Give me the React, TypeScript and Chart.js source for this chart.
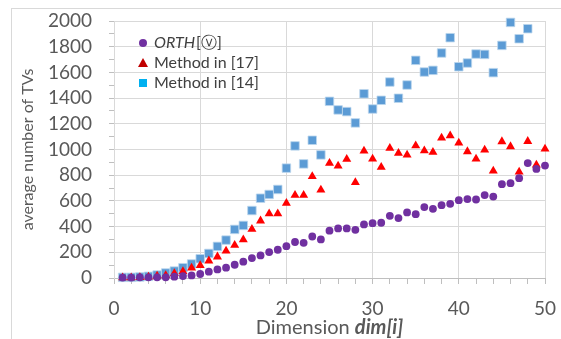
import React, { useEffect, useRef } from "react";
import { Chart, registerables } from "chart.js";

Chart.register(...registerables);

const dims = Array.from({ length: 50 }, (_, i) => i + 1);

const orth = [3, 3, 5, 5, 5, 5, 10, 15, 20, 31, 49, 67, 80, 103, 127, 155, 176, 202, 220, 248,
  280, 274, 323, 300, 368, 386, 386, 375, 417, 427, 430, 484, 466, 510, 497, 552, 538, 567, 577, 606,
  614, 611, 645, 634, 730, 738, 777, 894, 849, 875];

const method17 = [2, 2, 5, 8, 15, 20, 35, 51, 78, 98, 134, 165, 210, 256, 298, 380, 445, 500, 500, 583,
  645, 645, 790, 686, 893, 872, 924, 743, 989, 927, 862, 1010, 971, 958, 1030, 991, 979, 1090, 1108, 1051,
  984, 927, 997, 834, 1062, 1023, 826, 1064, 880, 1005];

const method14: (number | null)[] = [5, 5, 8, 13, 23, 39, 54, 80, 109, 150, 191, 246, 295, 378, 409, 525, 621, 650, 689, 855,
  1028, 888, 1072, 958, 1375, 1308, 1295, 1207, 1434, 1315, 1383, 1525, 1399, 1502, 1694, 1603, 1616, 1751, 1870, 1644,
  1673, 1743, 1740, 1598, 1810, 1989, 1862, 1940, null, null];

const yMin = 0, yMax = 2000, yMajor = 200, yMinor = 100;
const xMin = 0, xMax = 50, xMajor = 10, xMinor = 2;

const FONT = "Lato, 'Open Sans', sans-serif";
const TEXT = "#595959";
const GRID = "#d9d9d9";

const toPts = (arr: (number | null)[]) =>
  dims.map((d, i) => ({ x: d, y: arr[i] })).filter((p) => p.y !== null);

export default function App() {
  const ref = useRef<HTMLCanvasElement>(null);

  useEffect(() => {
    const overlay = {
      id: "overlay",
      afterDraw(chart: any) {
        const ctx = chart.ctx as CanvasRenderingContext2D;
        const ca = chart.chartArea;
        ctx.save();
        // legend
        const lx = 143, tx = 154;
        const rows = [43, 63, 83];
        ctx.fillStyle = "#7030A0";
        ctx.beginPath();
        ctx.arc(lx, rows[0], 4, 0, Math.PI * 2);
        ctx.fill();
        ctx.fillStyle = "#C00000";
        ctx.beginPath();
        ctx.moveTo(lx, rows[1] - 5);
        ctx.lineTo(lx + 5, rows[1] + 4);
        ctx.lineTo(lx - 5, rows[1] + 4);
        ctx.closePath();
        ctx.fill();
        ctx.fillStyle = "#00B0F0";
        ctx.fillRect(lx - 4, rows[2] - 4, 8, 8);

        ctx.fillStyle = "#404040";
        ctx.textBaseline = "middle";
        ctx.textAlign = "left";
        ctx.font = `italic 16px ${FONT}`;
        ctx.fillText("ORTH", tx, rows[0]);
        const w = ctx.measureText("ORTH").width;
        ctx.font = `16px ${FONT}`;
        ctx.fillText("[ⓥ]", tx + w + 1, rows[0]);
        ctx.fillText("Method in [17]", tx, rows[1]);
        ctx.fillText("Method in [14]", tx, rows[2]);

        // x title
        ctx.fillStyle = TEXT;
        ctx.textBaseline = "alphabetic";
        const size = 20;
        ctx.font = `${size}px ${FONT}`;
        const a = "Dimension ";
        const wa = ctx.measureText(a).width;
        ctx.font = `italic bold ${size}px ${FONT}`;
        const b = "dim[i]";
        const wb = ctx.measureText(b).width;
        const cx = (ca.left + ca.right) / 2;
        const sx = cx - (wa + wb) / 2;
        ctx.font = `${size}px ${FONT}`;
        ctx.fillText(a, sx, 334);
        ctx.font = `italic bold ${size}px ${FONT}`;
        ctx.fillText(b, sx + wa, 334);
        ctx.restore();
      },
    };

    const chart = new Chart(ref.current as HTMLCanvasElement, {
      type: "scatter",
      data: {
        datasets: [
          {
            label: "ORTH[ⓥ]",
            data: toPts(orth),
            pointStyle: "circle",
            pointRadius: 3.9,
            backgroundColor: "#7030A0",
            borderColor: "#7030A0",
            borderWidth: 0,
            clip: false,
          },
          {
            label: "Method in [17]",
            data: toPts(method17),
            pointStyle: "triangle",
            pointRadius: 5.2,
            backgroundColor: "#FF0000",
            borderColor: "#FF0000",
            borderWidth: 0,
            clip: false,
          },
          {
            label: "Method in [14]",
            data: toPts(method14),
            pointStyle: "rect",
            pointRadius: 6,
            backgroundColor: "#5B9BD5",
            borderColor: "#BDD7EE",
            borderWidth: 0.8,
            clip: false,
          },
        ] as any,
      },
      options: {
        animation: false,
        responsive: false,
        layout: { padding: { left: 0, right: 16, top: 21, bottom: 0 } },
        plugins: { legend: { display: false }, tooltip: { enabled: false } },
        scales: {
          x: {
            type: "linear",
            min: xMin,
            max: xMax,
            afterFit: (s: any) => { s.height = 61; s.paddingLeft = 0; s.paddingRight = 0; },
            ticks: {
              stepSize: xMinor,
              autoSkip: false,
              maxRotation: 0,
              padding: 13,
              color: TEXT,
              font: { family: FONT, size: 19 },
              callback: (v: any) => (Number(v) % xMajor === 0 ? String(v) : ""),
            },
            grid: {
              color: (c: any) => (c.tick && c.tick.value % xMajor === 0 ? GRID : "rgba(0,0,0,0)"),
              tickColor: "#bfbfbf",
              tickLength: 6,
              lineWidth: 1,
            },
            border: { display: true, color: "#bfbfbf" },
          },
          y: {
            type: "linear",
            min: yMin,
            max: yMax,
            afterFit: (s: any) => { s.width = 114; s.paddingTop = 0; s.paddingBottom = 0; },
            ticks: {
              stepSize: yMinor,
              autoSkip: false,
              padding: 17,
              color: TEXT,
              font: { family: FONT, size: 19 },
              callback: (v: any) => (Number(v) % yMajor === 0 ? String(v) : ""),
            },
            grid: {
              color: (c: any) => (c.tick && c.tick.value % yMajor === 0 ? GRID : "rgba(0,0,0,0)"),
              tickColor: "#bfbfbf",
              tickLength: 5,
              lineWidth: 1,
            },
            border: { display: true, color: GRID },
            title: {
              display: true,
              text: "average number of TVs",
              color: TEXT,
              font: { family: FONT, size: 16 },
              padding: { top: 18, bottom: 0 },
            },
          },
        },
      },
      plugins: [overlay],
    } as any);
    return () => chart.destroy();
  }, []);

  return (
    <div style={{ position: "fixed", left: 0, top: 0, width: 561, height: 339, background: "#fff" }}>
      <div
        style={{
          position: "absolute",
          left: 11,
          top: 8,
          right: 0,
          bottom: 0,
          borderTop: "1px solid #d9d9d9",
          borderLeft: "1px solid #d9d9d9",
        }}
      />
      <canvas ref={ref} width={561} height={339} style={{ position: "absolute", left: 0, top: 0 }} />
    </div>
  );
}
